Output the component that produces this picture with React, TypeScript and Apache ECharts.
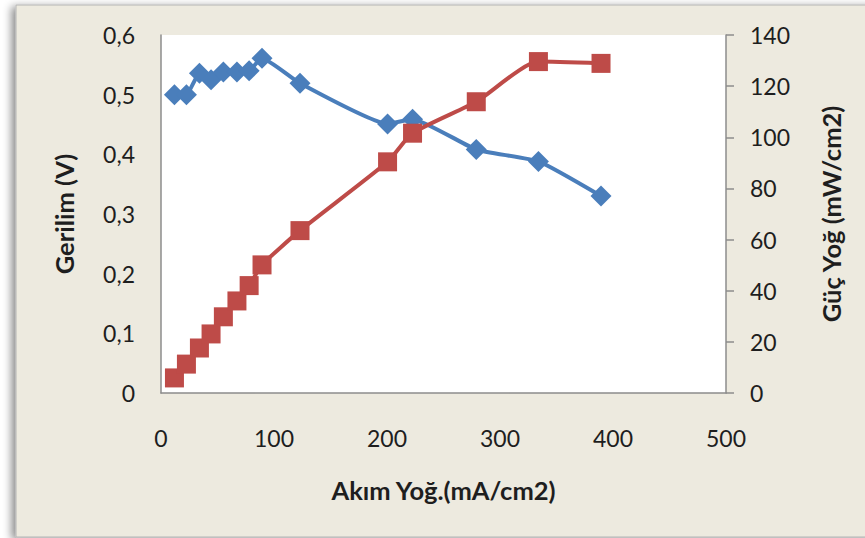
import React, { useEffect, useRef } from "react";
import * as echarts from "echarts";

const currentDensity = [11.9, 22.5, 34, 44.3, 55.2, 67.2, 78, 89.4, 123, 200.5, 222.6, 279, 334, 389.4];
const voltage = [0.5, 0.5, 0.536, 0.525, 0.538, 0.538, 0.54, 0.561, 0.519, 0.451, 0.459, 0.408, 0.388, 0.33];
const powerDensity = [5.9, 11.3, 17.6, 23.1, 29.8, 36.0, 42.0, 50.1, 63.5, 90.4, 101.6, 113.9, 129.6, 128.9];

const xAxisTitle = "Akım Yoğ.(mA/cm2)";
const leftAxisTitle = "Gerilim (V)";
const rightAxisTitle = "Güç Yoğ (mW/cm2)";

const FONT = "Lato, 'Noto Sans', sans-serif";
const TEXT = "#1e1e1e";
const AXIS = "#8c8c8c";

export default function App() {
  const ref = useRef<HTMLDivElement>(null);
  useEffect(() => {
    if (!ref.current) return;
    const chart = echarts.init(ref.current, null, { renderer: "svg" });
    const vData = currentDensity.map((x, i) => [x, voltage[i]]);
    const pData = currentDensity.map((x, i) => [x, powerDensity[i]]);
    chart.setOption({
      animation: false,
      backgroundColor: "#ffffff",
      graphic: [
        {
          type: "rect",
          z: -10,
          silent: true,
          shape: { x: 16, y: 5, width: 860, height: 532 },
          style: {
            fill: "#edeadf",
            stroke: "#b4b4b4",
            lineWidth: 1,
            shadowBlur: 8,
            shadowOffsetX: -4,
            shadowOffsetY: 2,
            shadowColor: "rgba(0,0,0,0.45)",
          },
        },
      ],
      grid: {
        left: 161,
        top: 35,
        width: 565,
        height: 358,
        show: true,
        backgroundColor: "#ffffff",
        borderWidth: 0,
        containLabel: false,
      },
      xAxis: {
        type: "value",
        min: 0,
        max: 500,
        interval: 100,
        name: xAxisTitle,
        nameLocation: "middle",
        nameGap: 84,
        nameTextStyle: { fontFamily: FONT, fontWeight: "bold", fontSize: 25.5, color: TEXT },
        axisLine: { show: true, lineStyle: { color: AXIS, width: 1.5 } },
        axisTick: { show: false },
        splitLine: { show: false },
        axisLabel: { margin: 33, fontFamily: FONT, fontSize: 23, color: TEXT },
      },
      yAxis: [
        {
          type: "value",
          min: 0,
          max: 0.6,
          interval: 0.1,
          position: "left",
          name: leftAxisTitle,
          nameLocation: "middle",
          nameGap: 84,
          nameTextStyle: { fontFamily: FONT, fontWeight: "bold", fontSize: 25.5, color: TEXT },
          axisLine: { show: true, lineStyle: { color: AXIS, width: 1.5 } },
          axisTick: { show: false },
          splitLine: { show: false },
          axisLabel: {
            margin: 26,
            fontFamily: FONT,
            fontSize: 23,
            color: TEXT,
            formatter: (v: number) => (Math.round(v * 10) / 10).toString().replace(".", ","),
          },
        },
        {
          type: "value",
          min: 0,
          max: 140,
          interval: 20,
          position: "right",
          name: rightAxisTitle,
          nameLocation: "middle",
          nameGap: 92,
          nameRotate: 90,
          nameTextStyle: { fontFamily: FONT, fontWeight: "bold", fontSize: 25.5, color: TEXT, verticalAlign: "top" },
          axisLine: { show: true, lineStyle: { color: AXIS, width: 1.5 } },
          axisTick: { show: true, inside: false, length: 8, lineStyle: { color: AXIS, width: 1.5 } },
          splitLine: { show: false },
          axisLabel: { margin: 24, fontFamily: FONT, fontSize: 23, color: TEXT },
        },
      ],
      series: [
        {
          name: leftAxisTitle,
          type: "line",
          yAxisIndex: 0,
          data: vData,
          smooth: 0.15,
          symbol: "diamond",
          symbolSize: [21, 21],
          itemStyle: { color: "#4a7ebb" },
          lineStyle: { color: "#4a7ebb", width: 4 },
          z: 3,
        },
        {
          name: rightAxisTitle,
          type: "line",
          yAxisIndex: 1,
          data: pData,
          smooth: 0.2,
          symbol: "rect",
          symbolSize: 19,
          itemStyle: { color: "#be4b48" },
          lineStyle: { color: "#be4b48", width: 4 },
          z: 4,
        },
      ],
    });
    return () => chart.dispose();
  }, []);
  return (
    <div
      ref={ref}
      style={{ position: "absolute", left: 0, top: 0, width: 865, height: 538 }}
    />
  );
}
